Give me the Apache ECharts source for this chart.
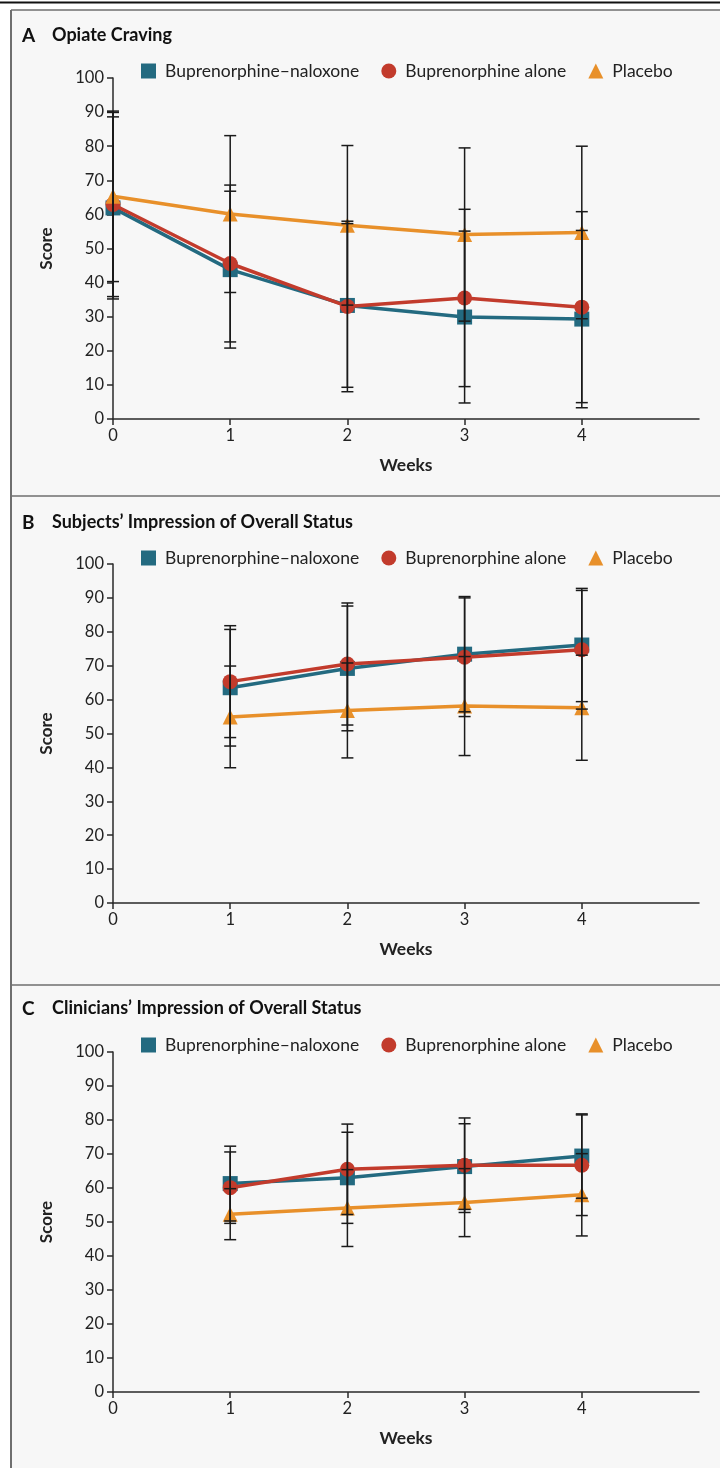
<!DOCTYPE html>
<html>
<head>
<meta charset="utf-8">
<script src="https://cdn.jsdelivr.net/npm/echarts@6/dist/echarts.min.js"></script>
<style>
html,body{margin:0;padding:0;background:#fff;}
#chart{width:720px;height:1468px;}
</style>
</head>
<body>
<div id="chart"></div>
<script>
// ---- Data ----
const weekLabels = ['0', '1', '2', '3', '4', ''];
const seriesNames = ['Buprenorphine\u2013naloxone', 'Buprenorphine alone', 'Placebo'];
const panelTitles = ['Opiate Craving', 'Subjects\u2019 Impression of Overall Status', 'Clinicians\u2019 Impression of Overall Status'];
const panelLetters = ['A', 'B', 'C'];

// Panel A: Opiate craving, weeks 0-4
const weeksA = [0, 1, 2, 3, 4];
const craveBupNal = [61.9, 43.8, 33.3, 29.9, 29.3];
const craveBupNalSD = [26.7, 23.0, 24.0, 25.2, 26.0];
const craveBupAlone = [62.9, 45.6, 33.0, 35.5, 32.8];
const craveBupAloneSD = [27.0, 23.0, 25.0, 26.0, 28.0];
const cravePlacebo = [65.3, 60.1, 56.8, 54.1, 54.7];
const cravePlaceboSD = [25.0, 23.0, 23.4, 25.4, 25.3];

// Panel B: Subjects' impression, weeks 1-4
const weeksB = [1, 2, 3, 4];
const subjBupNal = [63.5, 69.2, 73.4, 76.1];
const subjBupNalSD = [17.2, 18.4, 17.0, 16.7];
const subjBupAlone = [65.3, 70.5, 72.5, 74.7];
const subjBupAloneSD = [16.5, 18.0, 17.5, 17.5];
const subjPlacebo = [54.9, 56.8, 58.1, 57.6];
const subjPlaceboSD = [15.0, 14.0, 14.6, 15.5];

// Panel C: Clinicians' impression, weeks 1-4
const weeksC = [1, 2, 3, 4];
const clinBupNal = [61.3, 63.0, 66.3, 69.4];
const clinBupNalSD = [11.0, 13.4, 12.6, 12.4];
const clinBupAlone = [60.1, 65.5, 66.7, 66.7];
const clinBupAloneSD = [10.5, 13.3, 13.9, 14.8];
const clinPlacebo = [52.3, 54.1, 55.7, 58.0];
const clinPlaceboSD = [7.5, 11.3, 10.0, 12.1];

// ---- Styling ----
const colors = ['#236a80', '#c23b2c', '#e8902a'];
const symbols = ['rect', 'circle', 'triangle'];
const symbolSizes = [15, 15, 15];
const FONT = 'Lato';
const TXT = '#222';
const AX = '#2a2a2a';

const gridTops = [78, 564, 1052];
const gridHeights = [341, 339, 340];
const titleTops = [26, 513, 999];
const legendTops = [62, 549, 1036];

const panels = [
  { weeks: weeksA, vals: [craveBupNal, craveBupAlone, cravePlacebo], sds: [craveBupNalSD, craveBupAloneSD, cravePlaceboSD] },
  { weeks: weeksB, vals: [subjBupNal, subjBupAlone, subjPlacebo], sds: [subjBupNalSD, subjBupAloneSD, subjPlaceboSD] },
  { weeks: weeksC, vals: [clinBupNal, clinBupAlone, clinPlacebo], sds: [clinBupNalSD, clinBupAloneSD, clinPlaceboSD] }
];

const grids = [], xAxes = [], yAxes = [], series = [], legends = [], titles = [];

panels.forEach((p, gi) => {
  grids.push({ left: 113, right: 21, top: gridTops[gi], height: gridHeights[gi], containLabel: false });
  xAxes.push({
    type: 'category', gridIndex: gi, data: weekLabels, boundaryGap: false,
    axisLine: { lineStyle: { color: AX, width: 1.5 } },
    axisTick: { show: true, length: 6, interval: (i) => i < 5, lineStyle: { color: AX, width: 1.5 } },
    axisLabel: { interval: (i) => i < 5, color: TXT, fontFamily: FONT, fontSize: 16.5, margin: 8 },
    name: 'Weeks', nameLocation: 'middle', nameGap: 37,
    nameTextStyle: { fontFamily: FONT, fontWeight: 'bold', fontSize: 17.5, color: TXT },
    splitLine: { show: false }
  });
  yAxes.push({
    type: 'value', gridIndex: gi, min: 0, max: 100, interval: 10,
    axisLine: { show: true, lineStyle: { color: AX, width: 1.5 } },
    axisTick: { show: true, length: 6, lineStyle: { color: AX, width: 1.5 } },
    axisLabel: { color: TXT, fontFamily: FONT, fontSize: 16.5, margin: 9 },
    name: 'Score', nameLocation: 'middle', nameGap: 58,
    nameTextStyle: { fontFamily: FONT, fontWeight: 'bold', fontSize: 17, color: TXT },
    splitLine: { show: false }
  });
  titles.push({
    text: '{l|' + panelLetters[gi] + '}{t|' + panelTitles[gi] + '}',
    left: 22, top: titleTops[gi], padding: 0,
    textStyle: {
      rich: {
        l: { fontFamily: FONT, fontWeight: 'bold', fontSize: 19, color: '#111', width: 30 },
        t: { fontFamily: FONT, fontWeight: 'bold', fontSize: 18, color: '#111' }
      }
    }
  });
  legends.push({
    left: 141, top: legendTops[gi], itemWidth: 15, itemHeight: 15, itemGap: 22, padding: 0,
    selectedMode: false,
    textStyle: { fontFamily: FONT, fontSize: 17.5, color: TXT, padding: [0, 0, 0, 4] },
    data: seriesNames.map((n, si) => ({ name: n, icon: symbols[si] }))
  });
  p.vals.forEach((vals, si) => {
    series.push({
      type: 'line', name: seriesNames[si], xAxisIndex: gi, yAxisIndex: gi,
      data: p.weeks.map((w, k) => [w, vals[k]]),
      symbol: symbols[si], symbolSize: symbolSizes[si],
      lineStyle: { color: colors[si], width: 3.5 },
      itemStyle: { color: colors[si] },
      z: 2 + si, animation: false
    });
  });
  p.vals.forEach((vals, si) => {
    series.push({
      type: 'custom', xAxisIndex: gi, yAxisIndex: gi, z: 10, animation: false,
      data: p.weeks.map((w, k) => [w, vals[k] - p.sds[si][k], vals[k] + p.sds[si][k]]),
      encode: { x: 0, y: [1, 2] },
      renderItem: (params, api) => {
        const x = api.value(0);
        const lo = api.coord([x, api.value(1)]);
        const hi = api.coord([x, api.value(2)]);
        const hw = 6;
        const st = { stroke: '#1a1a1a', lineWidth: 1.5 };
        return {
          type: 'group',
          children: [
            { type: 'line', shape: { x1: hi[0], y1: hi[1], x2: lo[0], y2: lo[1] }, style: st },
            { type: 'line', shape: { x1: hi[0] - hw, y1: hi[1], x2: hi[0] + hw, y2: hi[1] }, style: st },
            { type: 'line', shape: { x1: lo[0] - hw, y1: lo[1], x2: lo[0] + hw, y2: lo[1] }, style: st }
          ]
        };
      }
    });
  });
});

const chart = echarts.init(document.getElementById('chart'), null, { renderer: 'canvas' });
chart.setOption({
  backgroundColor: '#ffffff',
  animation: false,
  title: titles,
  legend: legends,
  grid: grids,
  xAxis: xAxes,
  yAxis: yAxes,
  series: series,
  graphic: [
    { type: 'rect', z: -10, shape: { x: 11, y: 10, width: 709, height: 1458 }, style: { fill: '#f7f7f7' }, silent: true },
    { type: 'line', z: -5, shape: { x1: 0, y1: 2.5, x2: 720, y2: 2.5 }, style: { stroke: '#111', lineWidth: 2 }, silent: true },
    { type: 'line', z: -5, shape: { x1: 11, y1: 10, x2: 720, y2: 10 }, style: { stroke: '#6f6f6f', lineWidth: 1.5 }, silent: true },
    { type: 'line', z: -5, shape: { x1: 11, y1: 10, x2: 11, y2: 1468 }, style: { stroke: '#6f6f6f', lineWidth: 2 }, silent: true },
    { type: 'line', z: -5, shape: { x1: 11, y1: 496, x2: 720, y2: 496 }, style: { stroke: '#6f6f6f', lineWidth: 1.5 }, silent: true },
    { type: 'line', z: -5, shape: { x1: 11, y1: 985, x2: 720, y2: 985 }, style: { stroke: '#6f6f6f', lineWidth: 1.5 }, silent: true }
  ]
});
</script>
</body>
</html>
